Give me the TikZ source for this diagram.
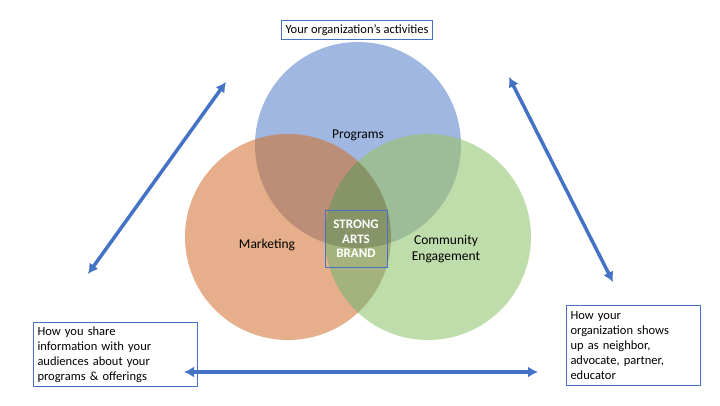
\documentclass[tikz,border=0pt]{standalone}
\usepackage{fontspec}
\setmainfont{Carlito}
\usetikzlibrary{arrows.meta}
\definecolor{pblue}{HTML}{8FAADC}
\definecolor{morange}{HTML}{E09A6E}
\definecolor{cgreen}{HTML}{A9D18E}
\definecolor{lblue}{HTML}{4472C4}
\begin{document}
\begin{tikzpicture}[x=1pt,y=-1pt,
  box/.style={draw=lblue,line width=1pt,fill=white,inner sep=4pt,font=\fontsize{12.5}{15}\selectfont,align=left},
  arr/.style={draw=lblue,line width=3.5pt,{Latex[length=10pt,width=11pt]}-{Latex[length=10pt,width=11pt]}},
  lab/.style={font=\fontsize{13.5}{16}\selectfont,align=center}]
\useasboundingbox (0,0) rectangle (720,405);
\fill[pblue,opacity=0.85] (358,145) circle (103);
\fill[morange,opacity=0.8] (288,237) circle (103);
\fill[cgreen,opacity=0.75] (428,237) circle (103);
\begin{scope}
\clip (358,145) circle (103);
\fill[black,opacity=0.1] (288,237) circle (103);
\fill[black,opacity=0.06] (428,237) circle (103);
\end{scope}
\begin{scope}
\clip (288,237) circle (103);
\fill[black,opacity=0.1] (428,237) circle (103);
\end{scope}
\node[lab] (prog) at (358,135) {Programs};
\node[lab] (mark) at (267,245) {Marketing};
\node[lab] (comm) at (446,249) {Community\\Engagement};
\node[draw=lblue,line width=1pt,text=white,font=\bfseries\fontsize{13}{14.5}\selectfont,align=center,minimum width=62pt,minimum height=57pt,inner sep=1pt] (brand) at (356,239) {STRONG\\ARTS\\BRAND};
\node[box] (top) at (357,30) {Your organization’s activities};
\node[box,anchor=north west,text width=156pt,minimum height=63pt] (left) at (33,322) {How you share\\information with your\\audiences about your\\programs \& offerings};
\node[box,anchor=north west,text width=126pt,minimum height=80pt] (right) at (566,305) {How your\\organization shows\\up as neighbor,\\advocate, partner,\\educator};
\coordinate (a1) at (88,274);
\coordinate (a2) at (226,82);
\coordinate (b1) at (509,77);
\coordinate (b2) at (613,282);
\coordinate (c1) at (184,372);
\coordinate (c2) at (538,372);
\draw[arr] (a1) -- (a2);
\draw[arr] (b1) -- (b2);
\draw[arr] (c1) -- (c2);
\end{tikzpicture}
\end{document}
